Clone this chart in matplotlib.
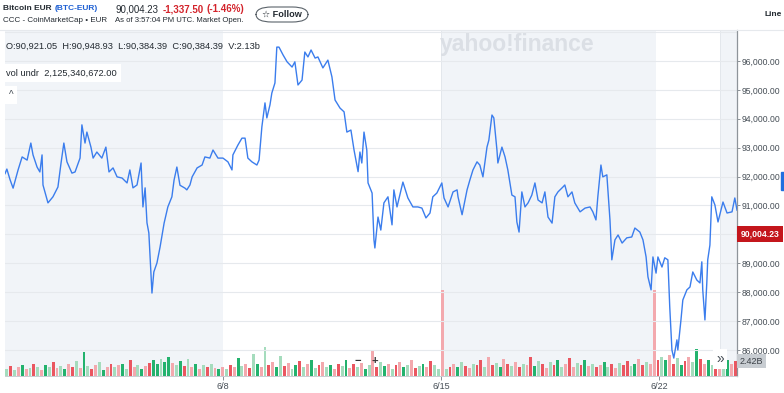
import matplotlib
matplotlib.use("Agg")
import matplotlib.pyplot as plt
from matplotlib.patches import FancyBboxPatch, Rectangle
import numpy as np

plt.rcParams['font.family'] = ['Liberation Sans', 'DejaVu Sans']

# ---------------- data ----------------
# time in days since 6/1 00:00 UTC
days = [0.00, 0.06, 0.16, 0.26, 0.42, 0.55, 0.71, 0.83, 0.90, 1.03, 1.12, 1.19, 1.22, 1.38, 1.54, 1.70,
        1.80, 1.89, 1.99, 2.15, 2.25, 2.41, 2.47, 2.57, 2.63, 2.76, 2.83, 2.95, 3.11, 3.24, 3.34, 3.47,
        3.60, 3.76, 3.92, 4.01, 4.11, 4.24, 4.37, 4.43, 4.50, 4.56, 4.62, 4.72, 4.78, 4.88, 4.98, 5.11,
        5.23, 5.36, 5.43, 5.52, 5.62, 5.78, 5.84, 5.94, 6.01, 6.17, 6.33, 6.42, 6.58, 6.68, 6.84, 7.00,
        7.16, 7.29, 7.32, 7.48, 7.61, 7.71, 7.80, 7.93, 8.09, 8.16, 8.25, 8.35, 8.41, 8.51, 8.57, 8.67,
        8.73, 8.80, 8.93, 9.06, 9.22, 9.31, 9.41, 9.54, 9.63, 9.73, 9.83, 9.96, 10.05, 10.21, 10.37, 10.50,
        10.60, 10.76, 10.89, 10.98, 11.11, 11.21, 11.34, 11.40, 11.46, 11.53, 11.62, 11.66, 11.79, 11.85, 11.88, 11.98,
        12.07, 12.17, 12.30, 12.43, 12.49, 12.59, 12.78, 12.94, 13.10, 13.26, 13.39, 13.52, 13.65, 13.74, 13.87, 14.03,
        14.10, 14.23, 14.39, 14.52, 14.55, 14.68, 14.84, 14.93, 15.03, 15.16, 15.25, 15.35, 15.48, 15.54, 15.64, 15.70,
        15.80, 15.83, 15.96, 16.06, 16.15, 16.28, 16.38, 16.44, 16.51, 16.60, 16.70, 16.80, 16.92, 17.02, 17.12, 17.25,
        17.34, 17.44, 17.57, 17.66, 17.76, 17.92, 17.98, 18.08, 18.21, 18.30, 18.47, 18.63, 18.79, 18.88, 18.98, 19.04,
        19.14, 19.20, 19.33, 19.43, 19.49, 19.59, 19.69, 19.82, 19.97, 20.13, 20.23, 20.39, 20.49, 20.59, 20.65, 20.75,
        20.81, 20.91, 20.97, 21.10, 21.19, 21.29, 21.35, 21.42, 21.48, 21.58, 21.61, 21.71, 21.77, 21.90, 22.00, 22.09,
        22.22, 22.32, 22.38, 22.41, 22.48, 22.54, 22.57, 22.64, 22.70, 22.80, 22.90, 23.06, 23.19, 23.35, 23.44, 23.51]

price = [92100, 92260, 91900, 91600, 92230, 92680, 92570, 93160, 92750, 92330, 92160, 92750, 91710, 91090, 91300, 91640,
         92470, 93160, 92510, 92120, 92160, 92640, 93790, 93160, 93540, 93020, 92640, 92850, 92640, 93020, 92160, 92300,
         91990, 91950, 91780, 92230, 91610, 91710, 92470, 90950, 91610, 90400, 90050, 87970, 88700, 89010, 89560, 90390,
         90950, 91300, 91880, 92330, 91700, 91600, 91540, 91710, 91990, 92300, 92400, 92680, 92640, 92920, 92640, 92640,
         92510, 92230, 92750, 93090, 93330, 93330, 92640, 92510, 92400, 92570, 93720, 94550, 94030, 94480, 94890, 95240,
         96480, 96480, 96210, 95970, 95790, 95970, 95170, 95340, 96310, 96140, 96380, 96100, 96140, 95760, 96030, 95450,
         94650, 94370, 94240, 93540, 93610, 92920, 92170, 92850, 92470, 93540, 92920, 91780, 91430, 89810, 89530, 90600,
         90150, 91090, 91300, 90330, 91540, 90950, 91810, 91260, 90950, 90950, 90910, 90570, 90740, 91300, 91430, 91780,
         91260, 90950, 91470, 91540, 91300, 90680, 91540, 91880, 92230, 92510, 92400, 91990, 93020, 93260, 94130, 94030,
         92920, 92470, 93020, 92680, 92230, 91360, 91300, 90430, 90080, 91470, 90950, 91090, 91360, 91780, 91190, 91090,
         91470, 90600, 90390, 91300, 91470, 91640, 91710, 91300, 91470, 91090, 90780, 90910, 90950, 90780, 90500, 91300,
         92400, 91990, 92060, 90500, 89120, 89810, 89980, 89700, 89880, 89910, 90220, 90080, 89810, 89220, 88530, 88080,
         89220, 88660, 89220, 88870, 89190, 89120, 87490, 86000, 85720, 86350, 86000, 87040, 87730, 88080, 88180, 88700,
         88420, 88320, 89050, 88080, 87040, 88320, 89120, 89630, 91300, 91020, 90430, 91120, 90740, 90780, 91260, 90840]

# volume (billions EUR), evenly spaced bars across the period
volume = [1.2, 1.6, 0.9, 1.4, 1.8, 1.1, 1.3, 2.0, 1.5, 1.0, 1.7, 1.4, 2.2, 1.3, 1.6, 1.1, 1.9, 1.4, 2.4,
          1.3, 3.9, 1.6, 1.2, 1.8, 2.3, 1.0, 1.5, 1.9, 1.4, 1.7, 2.0, 1.2, 2.6, 1.5, 1.8, 1.1, 1.6, 2.1,
          2.5, 1.9, 2.8, 2.2, 3.0, 2.1, 1.8, 2.4, 1.6, 2.7, 1.5, 1.9, 1.2, 1.7, 1.4, 2.0, 1.3, 1.1, 1.5,
          1.2, 1.8, 1.4, 2.9, 1.6, 2.0, 1.3, 3.5, 1.9, 1.5, 4.6, 1.7, 2.3, 1.4, 3.2, 1.6, 2.1, 1.2, 1.8,
          2.4, 1.5, 1.9, 2.6, 1.3, 1.7, 2.2, 1.4, 1.8, 1.1, 2.0, 1.6, 2.5, 1.3, 1.9, 1.5, 2.1, 1.2, 1.7,
          4.0, 1.4, 2.3, 1.6, 1.9, 1.2, 1.8, 2.2, 1.5, 1.7, 2.6, 1.3, 1.6, 2.0, 1.4, 2.4, 1.7, 1.2, 13.9,
          1.1, 1.5, 1.9, 1.4, 2.2, 1.6, 1.3, 2.0, 1.8, 2.5, 1.5, 3.0, 1.7, 2.1, 1.4, 2.7, 1.9, 1.6, 2.3,
          1.5, 2.0, 1.8, 3.1, 1.6, 2.4, 1.9, 1.3, 2.2, 1.7, 2.6, 1.5, 1.9, 2.9, 1.4, 2.1, 1.8, 2.5, 1.6,
          2.0, 1.4, 1.8, 2.3, 1.5, 1.9, 1.3, 2.1, 1.7, 2.4, 1.6, 2.0, 2.8, 1.8, 2.2, 1.9, 13.9, 2.5, 3.1,
          2.6, 3.4, 2.0, 2.9, 1.8, 2.4, 3.0, 2.2, 4.4, 2.7, 1.9, 2.5, 1.7, 2.3, 2.0, 1.8, 2.6, 1.9, 2.4]
# G = up (strong), g = up (light), R = down (strong), r = down (light)
vol_dir = ("gRgrGrgRgrGgRrgGrRg" "rGgRrgGrRgrGgRrgGrR" "GGgGGrgGRgrGrgRgrGr" "gRrGgrRgGrgRrGgRrgG"
           "RgrGgRrgGrRgGrRgrGg" "rRgGrgRrGgrRgGrRggr" "gRrGgRrgRRgrRgGrRgr" "RgrRGgRrgRGgrRrgRGr"
           "gRrGgRrgRRgGrRgrrRg" "GrRgGRrgGRrGgRrgGrR")

tick_days = [7, 14, 21]
tick_labels = ["6/8", "6/15", "6/22"]
y_ticks = [86000, 87000, 88000, 89000, 90000, 91000, 92000, 93000, 94000, 95000, 96000]
last_price = 90004.23
last_volume_label = "2.42B"
shade_spans = [(0.0, 7.0), (14.0, 20.9), (22.96, 23.51)]

# ---------------- figure ----------------
W, H = 784, 393
fig = plt.figure(figsize=(W / 100, H / 100), dpi=100)
fig.patch.set_facecolor('white')

def fx(x):
    return x / W

def fy(y):
    return 1 - y / H

ax_left, ax_right, ax_top, ax_bot = 5, 737, 30, 376
rect = [fx(ax_left), fy(ax_bot), (ax_right - ax_left) / W, (ax_bot - ax_top) / H]
XMAX = 23.51

# background axes: shading + volume bars
axv = fig.add_axes(rect)
axv.set_xlim(0, XMAX)
axv.set_ylim(0, 55.7)
for a, b in shade_spans:
    axv.axvspan(a, b, color='#f1f4f8', zorder=0, lw=0)
    if a > 0:
        axv.axvline(a, color='#e3e7ec', lw=0.7, zorder=0.5)
n = len(volume)
step = XMAX / n
vx = (np.arange(n) + 0.5) * step
cmap = {'G': '#23b26d', 'g': '#a5dcbd', 'R': '#ea5660', 'r': '#f3a9ae'}
cols = [cmap[c] for c in vol_dir[:n]]
axv.bar(vx, volume, width=step * 0.75, color=cols, linewidth=0, zorder=1)
axv.set_xticks([])
axv.set_yticks([])
for s in axv.spines.values():
    s.set_visible(False)

# foreground axes: price
ax = fig.add_axes(rect)
ax.patch.set_visible(False)
ax.set_xlim(0, XMAX)
ax.set_ylim(85100, 97072)
for yv in y_ticks + [97000]:
    ax.axhline(yv, color='#e6e9ed', lw=0.8, zorder=0.6)
ax.plot(days, price, color='#3b7ded', lw=1.0, zorder=3)

ax.yaxis.tick_right()
ax.set_yticks(y_ticks)
ax.set_yticklabels(["" if v == 90000 else f"{v:,.2f}" for v in y_ticks])
ax.tick_params(axis='y', length=2.5, width=0.7, color='#8a9096', pad=1, labelsize=6.2, labelcolor='#464e56')
ax.set_xticks(tick_days)
ax.set_xticklabels(tick_labels)
ax.tick_params(axis='x', length=3, width=0.7, color='#8a9096', pad=1, labelsize=6.5, labelcolor='#464e56')
for side in ['left', 'top']:
    ax.spines[side].set_visible(False)
ax.spines['right'].set_color('#8e949a')
ax.spines['right'].set_linewidth(0.9)
ax.spines['bottom'].set_color('#c9cdd2')
ax.spines['bottom'].set_linewidth(0.7)

# top border line across figure
fig.add_artist(plt.Line2D([0, 1], [fy(30), fy(30)], color='#e6e9ed', lw=0.8))

# last price badge
ax.annotate(f"{last_price:,.2f}", xy=(1.0, last_price), xycoords=('axes fraction', 'data'),
            xytext=(2.5, 0), textcoords='offset points', ha='left', va='center',
            fontsize=6.2, color='white', fontweight='bold',
            bbox=dict(boxstyle='square,pad=0.4', fc='#c4161c', ec='none'), annotation_clip=False)
# small blue tab at right edge
fig.add_artist(Rectangle((fx(781), fy(190)), 3 / W, 18 / H, color='#1f6fe0', transform=fig.transFigure))

# volume label
fig.text(fx(740), fy(361), last_volume_label, fontsize=6.5, color='#3c4147', ha='left', va='center',
         bbox=dict(boxstyle='square,pad=0.3', fc='#c8cdd2', ec='none'))
# >> button
fig.text(fx(720), fy(359), "»", fontsize=10, color='#464e56', ha='center', va='center',
         bbox=dict(boxstyle='square,pad=0.2', fc='white', ec='none'))
# zoom controls
fig.text(fx(358), fy(361), "−", fontsize=8, color='#333', ha='center', va='center', fontweight='bold')
fig.text(fx(375), fy(361), "+", fontsize=8, color='#333', ha='center', va='center', fontweight='bold')

# watermark
fig.text(fx(440), fy(45), "yahoo!finance", fontsize=16.5, color='#dbdfe5', ha='left', va='center',
         fontweight='bold')

# ---------------- header ----------------
fig.text(fx(3), fy(9), "Bitcoin EUR", fontsize=6.0, fontweight='bold', color='#232a31', ha='left', va='center')
fig.text(fx(55), fy(9), "(BTC-EUR)", fontsize=6.0, fontweight='bold', color='#1d5fd3', ha='left', va='center')
fig.text(fx(3), fy(20), "CCC - CoinMarketCap • EUR", fontsize=5.8, color='#232a31', ha='left', va='center')
fig.text(fx(115), fy(9), "90,004.23", fontsize=7, color='#232a31', ha='left', va='center')
fig.text(fx(163), fy(9), "-1,337.50", fontsize=7, color='#d3232b', fontweight='bold', ha='left', va='center')
fig.text(fx(207), fy(9), "(-1.46%)", fontsize=7, color='#d3232b', fontweight='bold', ha='left', va='center')
fig.text(fx(115), fy(21), "As of 3:57:04 PM UTC. Market Open.", fontsize=5.6, color='#232a31', ha='left', va='center')
btn = FancyBboxPatch((fx(256), fy(22)), 52 / W, 15 / H, boxstyle='round,pad=0,rounding_size=0.02',
                     transform=fig.transFigure, fc='white', ec='#5b636a', lw=0.8)
fig.add_artist(btn)
fig.text(fx(282), fy(14.5), "☆ Follow", fontsize=6.6, fontweight='bold', color='#232a31', ha='center', va='center',
         family=['Liberation Sans', 'DejaVu Sans'])
fig.text(fx(782), fy(14), "Line", fontsize=6, fontweight='bold', color='#232a31', ha='right', va='center')

# OHLC info
fig.text(fx(6), fy(46), "O:90,921.05  H:90,948.93  L:90,384.39  C:90,384.39  V:2.13b", fontsize=6.7,
         color='#232a31', ha='left', va='center')
fig.text(fx(6), fy(73), "vol undr  2,125,340,672.00", fontsize=6.7, color='#232a31', ha='left', va='center',
         bbox=dict(boxstyle='square,pad=0.5', fc='white', ec='none'))
fig.text(fx(11), fy(95), "^", fontsize=7, color='#464e56', ha='center', va='center',
         bbox=dict(boxstyle='square,pad=0.4', fc='white', ec='none'))

fig.savefig("out.png", dpi=100)
